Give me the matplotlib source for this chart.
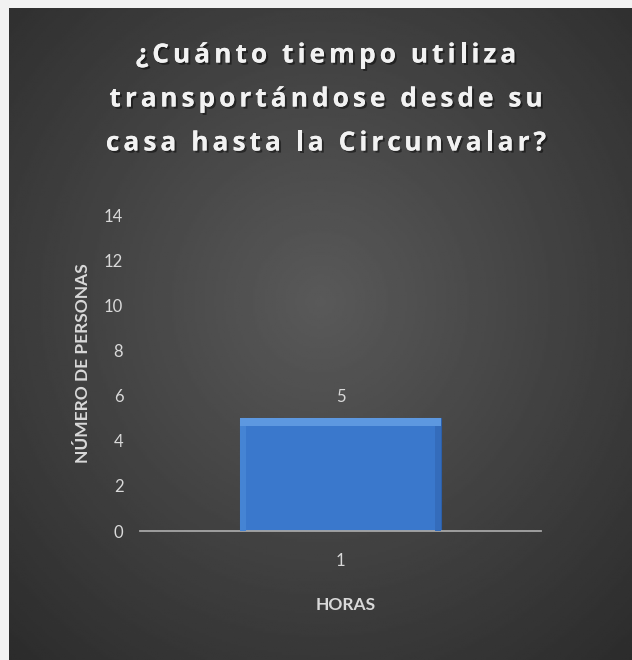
import matplotlib

matplotlib.use("Agg")
import matplotlib.pyplot as plt
import matplotlib.patheffects as pe
from matplotlib.font_manager import FontProperties
import numpy as np

TITLE_LINES = ["¿Cuánto tiempo utiliza", "transportándose desde su", "casa hasta la Circunvalar?"]
CATEGORIES = ["1"]
VALUES = [5]
Y_TICKS = [0, 2, 4, 6, 8, 10, 12, 14]
X_LABEL = "HORAS"
Y_LABEL = "NÚMERO DE PERSONAS"

W, H = 632, 660
TXT = "#d9d9d9"
FONT = "Lato"

fig = plt.figure(figsize=(W / 100, H / 100), dpi=100)
fig.patch.set_facecolor("#f2f2f2")

# dark panel with radial gradient (lighter in the middle)
bg = fig.add_axes([9 / W, 0, 1 - 9 / W, 1 - 8 / H])
yy, xx = np.mgrid[0:1:300j, 0:1:300j]
r = np.sqrt(((xx - 0.5) / 0.75) ** 2 + ((yy - 0.55) / 0.75) ** 2)
bg.imshow(0.35 - 0.18 * np.clip(r, 0, 1), cmap="gray", vmin=0, vmax=1,
          extent=[0, 1, 0, 1], aspect="auto", origin="lower")
bg.set_axis_off()

ax = fig.add_axes([140 / W, 1 - 531 / H, 401 / W, 316 / H])
ax.set_facecolor("none")
x = np.arange(1, len(CATEGORIES) + 1)
bw = 0.5
ax.bar(x, VALUES, width=bw, color="#3a78cc", edgecolor="#2c5fa8", linewidth=0.8, zorder=2)
# bevel: lighter top strip and sides
bev = 0.35
ax.bar(x, [bev] * len(x), bottom=np.array(VALUES) - bev, width=bw,
       color="#5d98e0", linewidth=0, zorder=3)
ax.bar(x - bw / 2 + 0.007, np.array(VALUES) - bev, width=0.014,
       color="#4584d4", linewidth=0, zorder=3)
ax.bar(x + bw / 2 - 0.007, np.array(VALUES) - bev, width=0.014,
       color="#346cbb", linewidth=0, zorder=3)

for xi, v in zip(x, VALUES):
    ax.text(xi, v + 0.95, str(v), ha="center", va="center", color=TXT,
            fontsize=12, family=FONT)

ax.set_xlim(0.5, len(CATEGORIES) + 0.5)
ax.set_ylim(0, 14)
ax.set_yticks(Y_TICKS)
ax.set_xticks(x)
ax.set_xticklabels(CATEGORIES)
ax.tick_params(axis="both", length=0, colors=TXT, labelsize=12)
ax.tick_params(axis="y", pad=12)
ax.tick_params(axis="x", pad=16)
for lab in ax.get_xticklabels() + ax.get_yticklabels():
    lab.set_family(FONT)
for s in ["left", "right", "top"]:
    ax.spines[s].set_visible(False)
ax.spines["bottom"].set_color("#a6a6a6")
ax.spines["bottom"].set_linewidth(1.3)


def spaced_text(line, cx, cy, fp, spacing, **kw):
    """Draw one line of text, centred at pixel (cx, cy), with extra letter spacing."""
    rend = fig.canvas.get_renderer()

    def width(s):
        t = fig.text(0, 0, s, fontproperties=fp)
        w = t.get_window_extent(rend).width
        t.remove()
        return w

    ref = width("|")
    lefts = [width(line[:i] + "|") - ref + i * spacing for i in range(len(line))]
    total = width(line) + (len(line) - 1) * spacing
    x0 = cx - total / 2
    for ch, lx in zip(line, lefts):
        if ch != " ":
            fig.text((x0 + lx) / W, 1 - cy / H, ch, fontproperties=fp,
                     ha="left", va="center_baseline", **kw)


title_fp = FontProperties(family="Open Sans", weight="bold", size=19)
shadow = [pe.withSimplePatchShadow(offset=(1.5, -1.5), shadow_rgbFace="black", alpha=0.45),
          pe.Normal()]
for line, cy in zip(TITLE_LINES, [52, 96, 140]):
    spaced_text(line, 326, cy, title_fp, 4.0, color="#f2f2f2", path_effects=shadow)

fig.text(346 / W, 1 - 605 / H, X_LABEL, ha="center", va="center", color=TXT,
         fontsize=12.5, fontweight="bold", family=FONT)
fig.text(83 / W, 1 - 363 / H, Y_LABEL, ha="center", va="center", color=TXT,
         fontsize=12.5, fontweight="bold", family=FONT, rotation=90)

fig.savefig("out.png", dpi=100)
